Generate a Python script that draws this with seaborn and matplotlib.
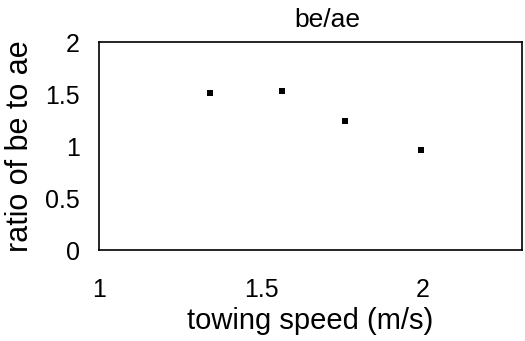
import matplotlib
matplotlib.use("Agg")
import matplotlib.pyplot as plt
import seaborn as sns
import pandas as pd

speed = [1.343, 1.564, 1.761, 1.993]
ratio = [1.507, 1.532, 1.243, 0.96]
xticks = [1, 1.5, 2]
xtick_labels = ["1", "1.5", "2"]
yticks = [0, 0.5, 1, 1.5, 2]
ytick_labels = ["0", "0.5", "1", "1.5", "2"]

sns.set_theme(style="white")
plt.rcParams['font.family'] = ['Liberation Sans', 'DejaVu Sans']

df = pd.DataFrame({"speed": speed, "ratio": ratio})

fig = plt.figure(figsize=(5.25, 3.41), dpi=100)
ax = fig.add_axes([99/525, 1 - 250/341, (522-99)/525, (250-42)/341])
sns.scatterplot(data=df, x="speed", y="ratio", ax=ax, marker="s", s=13,
                color="black", edgecolor="black", linewidth=0)
ax.set_xlim(1, 2.306)
ax.set_ylim(0, 2)
ax.set_xticks(xticks)
ax.set_xticklabels(xtick_labels)
ax.set_yticks(yticks)
ax.set_yticklabels(ytick_labels)
ax.tick_params(axis="both", length=0, labelsize=18, colors="black")
ax.tick_params(axis="x", pad=20)
ax.tick_params(axis="y", pad=14)
for sp in ax.spines.values():
    sp.set_visible(True)
    sp.set_color("black")
    sp.set_linewidth(1.2)
ax.set_xlabel("towing speed (m/s)", fontsize=21, color="black", labelpad=4)
ax.set_ylabel("ratio of be to ae", fontsize=22, color="black", labelpad=7)
ax.set_title("be/ae", fontsize=19, color="black", pad=11, x=0.54)
fig.savefig("out.png", dpi=100)
